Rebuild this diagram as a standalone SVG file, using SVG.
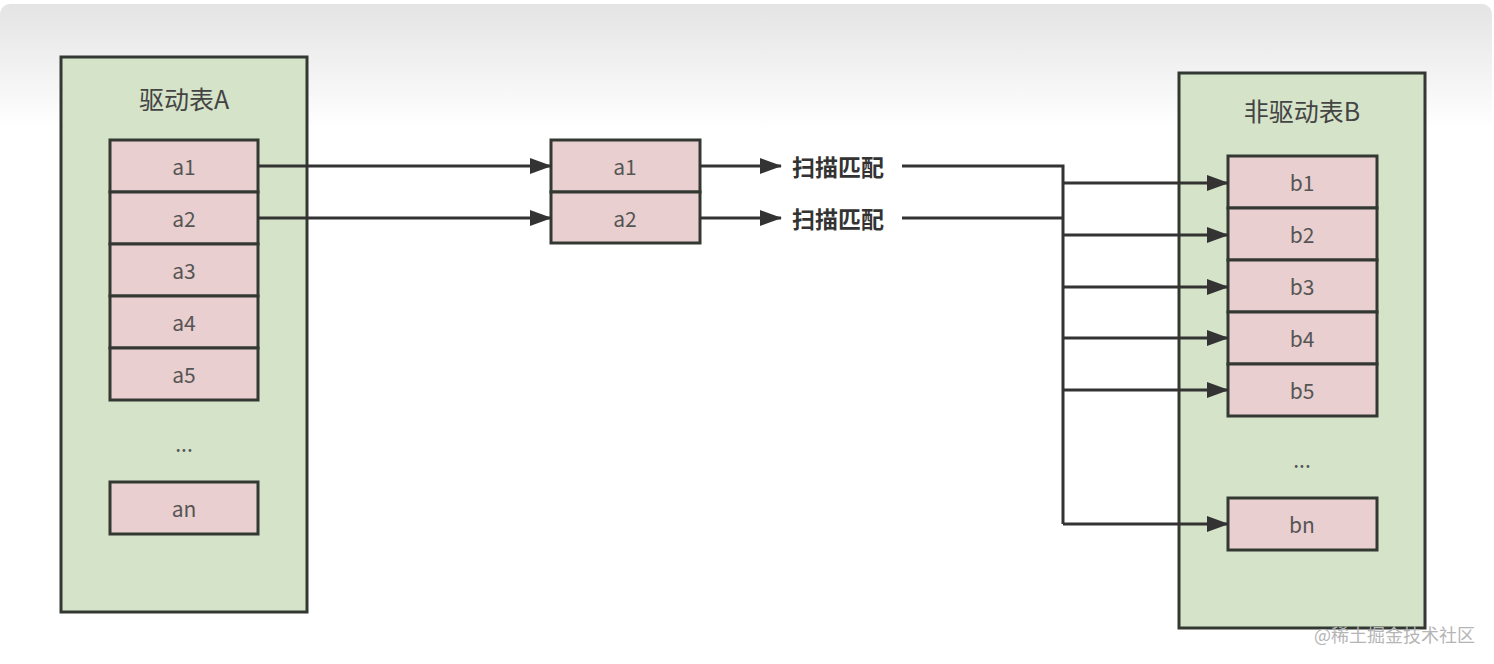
<svg xmlns="http://www.w3.org/2000/svg" width="1494" height="664" viewBox="0 0 1494 664">
<defs>
<linearGradient id="bg" x1="0" y1="0" x2="0" y2="1">
<stop offset="0" stop-color="#e4e4e4"/>
<stop offset="1" stop-color="#ffffff"/>
</linearGradient>
<marker id="arr" markerWidth="22" markerHeight="16" refX="21" refY="8" orient="auto" markerUnits="userSpaceOnUse">
<path d="M0,0 L22,8 L0,16 Z" fill="#333333"/>
</marker>
<style>
.outer{fill:#d5e3c9;stroke:#333833;stroke-width:3}
.cell{fill:#e9cfcf;stroke:#333833;stroke-width:3}
.t{font-family:"Noto Sans CJK SC","Noto Sans",sans-serif;font-size:21px;fill:#555555;text-anchor:middle}
.title{font-family:"Noto Sans CJK SC","Noto Sans",sans-serif;font-size:25px;fill:#444444;text-anchor:middle}
.lbl{font-family:"Noto Sans CJK SC",sans-serif;font-size:23px;fill:#333333;font-weight:bold}
.c{fill:none;stroke:#333333;stroke-width:3}
.wm{font-family:"Noto Sans CJK SC",sans-serif;font-size:18px;fill:#b5b5b5}
</style>
</defs>
<rect x="0" y="0" width="1494" height="664" fill="#ffffff"/>
<rect x="0" y="4" width="1492" height="125" rx="10" fill="url(#bg)"/>

<g id="tableA">
<rect class="outer" x="61" y="57" width="246" height="555"/>
<text class="title" x="184" y="109">驱动表A</text>
<rect class="cell" x="110" y="140" width="148" height="52"/><text class="t" x="184" y="175">a1</text>
<rect class="cell" x="110" y="192" width="148" height="52"/><text class="t" x="184" y="227">a2</text>
<rect class="cell" x="110" y="244" width="148" height="52"/><text class="t" x="184" y="279">a3</text>
<rect class="cell" x="110" y="296" width="148" height="52"/><text class="t" x="184" y="331">a4</text>
<rect class="cell" x="110" y="348" width="148" height="52"/><text class="t" x="184" y="383">a5</text>
<text class="t" x="184" y="452">...</text>
<rect class="cell" x="110" y="482" width="148" height="52"/><text class="t" x="184" y="517">an</text>
</g>

<g id="middle">
<rect class="cell" x="551" y="140" width="149" height="52"/><text class="t" x="625" y="175">a1</text>
<rect class="cell" x="551" y="192" width="149" height="51"/><text class="t" x="625" y="227">a2</text>
</g>

<g id="label1"><text class="lbl" x="792" y="176">扫描匹配</text></g>
<g id="label2"><text class="lbl" x="792" y="228">扫描匹配</text></g>

<g id="tableB">
<rect class="outer" x="1179" y="73" width="246" height="555"/>
<text class="title" x="1302" y="121">非驱动表B</text>
<rect class="cell" x="1228" y="156" width="149" height="52"/><text class="t" x="1302" y="191">b1</text>
<rect class="cell" x="1228" y="208" width="149" height="52"/><text class="t" x="1302" y="243">b2</text>
<rect class="cell" x="1228" y="260" width="149" height="52"/><text class="t" x="1302" y="295">b3</text>
<rect class="cell" x="1228" y="312" width="149" height="52"/><text class="t" x="1302" y="347">b4</text>
<rect class="cell" x="1228" y="364" width="149" height="52"/><text class="t" x="1302" y="399">b5</text>
<text class="t" x="1302" y="468">...</text>
<rect class="cell" x="1228" y="498" width="149" height="52"/><text class="t" x="1302" y="533">bn</text>
</g>

<g id="connectors">
<line class="c" x1="258" y1="166" x2="551" y2="166" marker-end="url(#arr)"/>
<line class="c" x1="258" y1="218" x2="551" y2="218" marker-end="url(#arr)"/>
<line class="c" x1="700" y1="166" x2="781" y2="166" marker-end="url(#arr)"/>
<line class="c" x1="700" y1="218" x2="781" y2="218" marker-end="url(#arr)"/>
<polyline class="c" points="902,166 1063,166 1063,524"/>
<line class="c" x1="902" y1="218" x2="1063" y2="218"/>
<line class="c" x1="1063" y1="183" x2="1228" y2="183" marker-end="url(#arr)"/>
<line class="c" x1="1063" y1="235" x2="1228" y2="235" marker-end="url(#arr)"/>
<line class="c" x1="1063" y1="287" x2="1228" y2="287" marker-end="url(#arr)"/>
<line class="c" x1="1063" y1="338" x2="1228" y2="338" marker-end="url(#arr)"/>
<line class="c" x1="1063" y1="390" x2="1228" y2="390" marker-end="url(#arr)"/>
<line class="c" x1="1063" y1="524" x2="1228" y2="524" marker-end="url(#arr)"/>
</g>

<text class="wm" x="1314" y="642">@稀土掘金技术社区</text>
</svg>
